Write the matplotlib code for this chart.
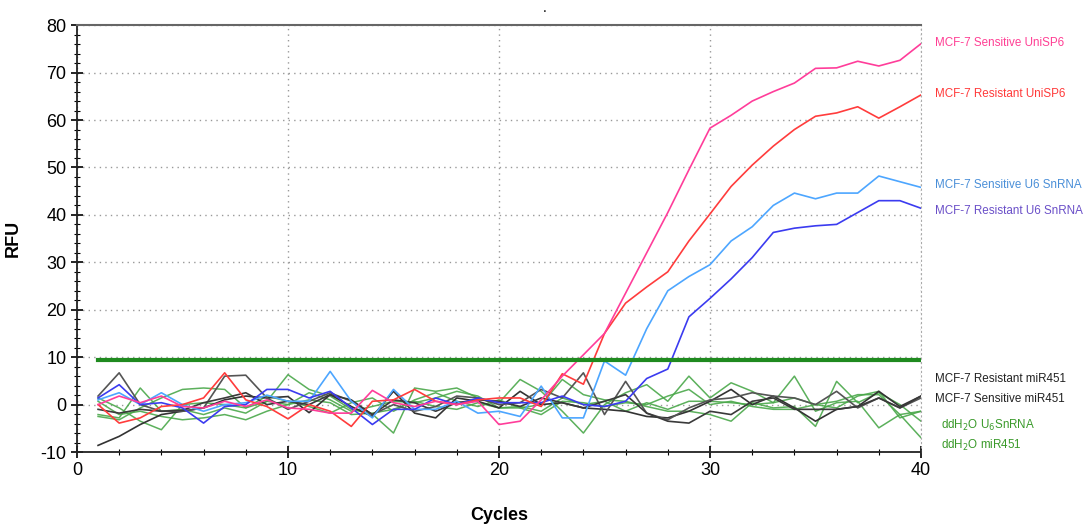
import matplotlib
matplotlib.use("Agg")
import matplotlib.pyplot as plt
from matplotlib.ticker import MultipleLocator

plt.rcParams["font.family"] = ["Liberation Sans", "DejaVu Sans"]
plt.rcParams["axes.unicode_minus"] = False

# qPCR amplification curves, RFU per cycle
cycles = list(range(1, 41))

sens_unisp6 = [0, 1.8, 0.4, 1.8, -0.4, -0.7, 0.7, -0.4, 1, -0.7,
               -1, -1.8, -1.8, 3, 0.4, -0.4, 0.7, 0, 0.7, -4.2,
               -3.5, 1, 6, 10.5, 15, 23.5, 32, 40.5, 49.5, 58.3,
               61, 64, 66, 67.8, 70.9, 71, 72.4, 71.4, 72.6, 76.1]
res_unisp6 = [0, -3.9, -2.8, -0.4, 0, 1.4, 6.7, 1, -0.4, -3,
              0, -1.4, -4.6, 0.7, 1, 3.2, 0.7, 0, 1, 1.4,
              1.4, -0.4, 6.5, 4.3, 15, 21.4, 24.8, 28, 34.5, 40.2,
              46, 50.5, 54.5, 58, 60.8, 61.5, 62.8, 60.4, 62.8, 65.3]
sens_u6 = [1, 2.5, 0, 2.5, 0, -1.4, 0, 0.4, 2, 0.7,
           0.7, 7, 0.7, -2.8, 3.2, -1, -1, 0.7, -1.8, -1.4,
           -2.5, 3.9, -2.8, -2.8, 9.2, 6.2, 16, 24, 27, 29.5,
           34.5, 37.5, 42, 44.6, 43.4, 44.6, 44.6, 48.2, 47, 45.8]
res_u6 = [1.4, 4.2, 0, 0.4, -0.7, -3.9, -0.4, 0, 3.2, 3.2,
          1.4, 2.8, -0.7, -4.2, -1, -1, 1.4, 0, 1.4, 0.4,
          0.4, 0.4, 1.8, 0, -0.4, 0.7, 5.5, 7.5, 18.5, 22.4,
          26.5, 31, 36.3, 37.2, 37.7, 38, 40.5, 43, 43, 41.4]
res_mir451 = [-8.6, -6.7, -4.2, -2.1, -1.4, -0.7, 1, 1.8, 1.4, 1.7,
              -1.7, 2.1, -0.4, -2.5, 2.8, -1.8, -2.8, 1.4, 0.7, -0.7,
              2.8, 0, 0.4, -0.7, -1, -1.4, -2.5, -2.8, -1.4, 0.7,
              3.2, 0, 1.8, -0.7, -3.5, -1, -0.4, 2.8, -0.4, 1.8]
sens_mir451 = [1.8, 6.7, 0, -1.4, -1.4, -0.7, 6, 6.2, 1.4, -1,
               0.7, 2.5, 0.7, -2.1, 0, -1.4, -0.4, 1.8, 1.4, 0,
               0.4, 3.2, 1.4, 6.7, -2.1, 4.9, -1.8, -3.2, -0.7, 1,
               1.4, 2.5, 1.8, 1.4, 0, 2.8, -0.7, 1.4, -0.7, 1.4]
sens_mir451_b = [-1, -1.8, -1, -1.4, -1.2, 0.4, 1.4, 2.5, 0, 0.7,
                 0, 2.1, 1, -2.1, 1, 0.4, -1.4, 0.4, 1, 0.7,
                 -0.4, 1.4, 0.4, -0.7, 0.7, 2.1, -1.8, -3.5, -3.9, -1.4,
                 -2.1, 0.7, 1.4, -1, -1, -1, -0.4, 1.4, -0.7, 1.8]
water_u6_a = [-2.1, -2.8, 3.5, -1.4, -1, -2.1, -0.7, -1.8, 0.7, 6.3,
              3.2, 1.8, -1, -2, -6, 3.5, 2.8, 3.5, 1.4, 0.4,
              5.3, 2.8, -1.4, -6, 0, 2.5, 4.2, 0.7, 6, 1.4,
              4.6, 2.8, 0.4, 6, -1.4, 0.4, 0.7, -4.9, -2.1, -1.4]
water_u6_b = [1.4, -0.7, -3.5, -5.3, 0, 0.4, 0, -0.7, 1.8, 0.7,
              -0.4, -1.8, 0.4, 1.4, -1.4, 1, 2.5, 0.7, -0.4, 1,
              -0.7, 0, 5.3, 2.1, 1, 0.7, -0.4, -1.4, -1.4, -2.1,
              -3.5, 0.4, -0.7, -0.4, -4.6, 4.9, 0.4, 2.5, 0, -3.5]
water_mir451_a = [-2.5, -3.2, -0.7, 1.4, 3.2, 3.5, 3.2, -0.7, 0.7, 0,
                  2.5, 1, -1.4, -0.4, 0.7, 0.4, 1.4, 2.8, 1.8, -0.7,
                  -0.7, -2.1, 0.7, 0.4, -0.4, 0.4, 0, 1.8, 3.2, 0,
                  0.7, -0.4, -1, -1, 0, 0.7, 2.1, 2.1, -2.1, -7]
water_mir451_b = [0.7, -2.1, -1.4, -2.5, -3.2, -2.8, -2.1, -3.2, -1.4, 0,
                  1, 0.4, -2.1, -1.8, -1, 0.7, -0.4, -1, 0.4, -0.7,
                  -0.4, -1.4, 1.4, 0, 0.7, -1.4, 0.4, -1, 0.7, 0.7,
                  0.4, 0, 0.4, 1.4, 0, -0.7, 1.8, 2.8, -2.8, -1.4]

threshold = 9.5

labels = ["MCF-7 Sensitive UniSP6", "MCF-7 Resistant UniSP6",
          "MCF-7 Sensitive U6 SnRNA", "MCF-7 Resistant U6 SnRNA",
          "MCF-7 Resistant miR451", "MCF-7 Sensitive miR451",
          "ddH$_2$O U$_6$SnRNA", "ddH$_2$O miR451"]
label_y = [76.2, 65.5, 46.2, 40.9, 5.4, 1.2, -4.4, -8.6]
label_colors = ["#ff3f94", "#ff3a3a", "#4a8fd8", "#6a4fc8",
                "#222222", "#222222", "#3a9a2a", "#3a9a2a"]

fig = plt.figure(figsize=(10.87, 5.25), dpi=100)
ax = fig.add_axes([0.0708, 0.139, 0.7765, 0.813])

green = "#4aa84a"
for s in [water_u6_a, water_u6_b, water_mir451_a, water_mir451_b]:
    ax.plot(cycles, s, color=green, lw=1.1, alpha=0.9)
ax.plot(cycles, res_mir451, color="#333333", lw=1.2)
ax.plot(cycles, sens_mir451, color="#555555", lw=1.2)
ax.plot(cycles, sens_mir451_b, color="#3a3a3a", lw=1.2)
ax.plot(cycles, sens_u6, color="#4da6ff", lw=1.2)
ax.plot(cycles, res_u6, color="#3b3bf0", lw=1.2)
ax.plot(cycles, res_unisp6, color="#ff3c3c", lw=1.2)
ax.plot(cycles, sens_unisp6, color="#ff3d9a", lw=1.2)

ax.plot([cycles[0], cycles[-1]], [threshold, threshold], color="#1f8a1f", lw=3)

ax.set_xlim(0, 40)
ax.set_ylim(-10, 80)
ax.xaxis.set_major_locator(MultipleLocator(10))
ax.xaxis.set_minor_locator(MultipleLocator(2))
ax.yaxis.set_major_locator(MultipleLocator(10))
ax.yaxis.set_minor_locator(MultipleLocator(2))
ax.tick_params(which="major", direction="inout", length=8, width=1.2, labelsize=13)
ax.tick_params(which="minor", direction="inout", length=4, width=0.8)
ax.grid(True, which="major", color="#999999", linestyle=(0, (1, 3)), lw=1)

for side in ["left", "bottom"]:
    ax.spines[side].set_color("#222222")
    ax.spines[side].set_linewidth(1.3)
ax.spines["top"].set_color("#666666")
ax.spines["top"].set_linewidth(1.5)
ax.spines["right"].set_color("#aaaaaa")
ax.spines["right"].set_linestyle((0, (1, 3)))

ax.set_xlabel("Cycles", fontsize=13, fontweight="bold", labelpad=20)
ax.set_ylabel("RFU", fontsize=13, fontweight="bold")
ax.yaxis.set_label_coords(-0.066, 0.5)

for txt, yv, col in zip(labels, label_y, label_colors):
    xoff = 0.95 if txt.startswith("dd") else 0.65
    ax.text(40 + xoff, yv, txt, color=col, fontsize=8.4, va="center",
            clip_on=False)

fig.text(0.501, 0.985, ".", fontsize=10, ha="center", va="center")

fig.savefig("out.png", dpi=100)
